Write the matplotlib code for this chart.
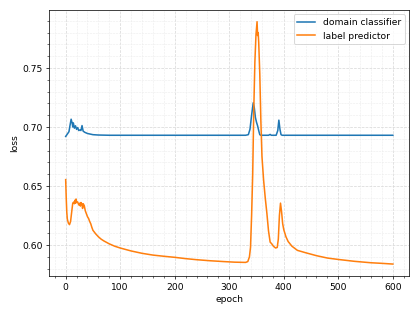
import matplotlib
matplotlib.use("Agg")
import matplotlib.pyplot as plt
from matplotlib.ticker import AutoMinorLocator

dc_epoch = [0, 3, 6, 8, 10, 12, 13, 14, 16, 18, 20, 22, 24, 26, 28, 30, 32, 35, 40, 45, 50, 60, 80,
            100, 150, 200, 250, 300, 330, 335, 338, 341, 344, 346, 348, 350, 352, 354, 356, 358,
            365, 372, 375, 377, 386, 389, 391, 393, 395, 397, 450, 500, 550, 600]
dc_loss = [0.692, 0.694, 0.696, 0.7015, 0.7066, 0.703, 0.700, 0.7035, 0.699, 0.701, 0.698, 0.6995,
           0.697, 0.6975, 0.697, 0.7012, 0.6965, 0.6955, 0.6945, 0.694, 0.6935, 0.6932, 0.693,
           0.693, 0.693, 0.693, 0.693, 0.693, 0.693, 0.6935, 0.698, 0.710, 0.7205, 0.716, 0.708,
           0.704, 0.701, 0.697, 0.6935, 0.693, 0.693, 0.693, 0.6937, 0.693, 0.693, 0.697, 0.7058,
           0.698, 0.6935, 0.693, 0.693, 0.693, 0.693, 0.693]

lp_epoch = [0, 1, 2, 3, 5, 7, 9, 11, 13, 15, 16, 17, 18, 19, 20, 22, 24, 26, 27, 28, 30, 31, 32,
            34, 36, 38, 40, 42, 44, 46, 48, 50, 55, 60, 65, 70, 80, 90, 100, 120, 140, 160, 180,
            200, 220, 240, 265, 290, 310, 330, 334, 337, 339, 341, 343, 345, 347, 349, 351, 352,
            353, 354, 356, 358, 360, 363, 366, 369, 372, 375, 378, 381, 385, 388, 390, 392, 394,
            396, 398, 400, 404, 408, 415, 425, 440, 460, 480, 500, 530, 560, 580, 600]
lp_loss = [0.6554, 0.640, 0.628, 0.622, 0.6185, 0.6173, 0.620, 0.628, 0.6355, 0.6365, 0.635, 0.638,
           0.6355, 0.639, 0.636, 0.6365, 0.634, 0.6355, 0.633, 0.636, 0.6345, 0.631, 0.635, 0.6335,
           0.629, 0.6265, 0.624, 0.6225, 0.620, 0.618, 0.615, 0.6125, 0.6095, 0.607, 0.605,
           0.6035, 0.601, 0.599, 0.5975, 0.595, 0.593, 0.5915, 0.5905, 0.5896, 0.5885, 0.5876,
           0.5867, 0.586, 0.5855, 0.5853, 0.586, 0.590, 0.598, 0.625, 0.660, 0.715, 0.755, 0.778,
           0.7892, 0.7775, 0.780, 0.772, 0.745, 0.705, 0.675, 0.655, 0.640, 0.627, 0.612, 0.6025,
           0.601, 0.599, 0.5975, 0.598, 0.605, 0.625, 0.6355, 0.628, 0.618, 0.613, 0.607, 0.603,
           0.599, 0.5955, 0.5935, 0.591, 0.589, 0.5878, 0.5862, 0.585, 0.5845, 0.5839]

fig, ax = plt.subplots(figsize=(6.4, 4.8), dpi=419 / 6.4)
ax.plot(dc_epoch, dc_loss, label="domain classifier", linewidth=1.7)
ax.plot(lp_epoch, lp_loss, label="label predictor", linewidth=1.7)
ax.set_xlabel("epoch")
ax.set_ylabel("loss")
ax.xaxis.set_minor_locator(AutoMinorLocator())
ax.yaxis.set_minor_locator(AutoMinorLocator())
ax.grid(which="major", linestyle="--", color="#d8d8d8", linewidth=0.8)
ax.grid(which="minor", linestyle="--", color="#ebebeb", linewidth=0.6)
ax.set_axisbelow(True)
ax.legend(loc="upper right")
fig.tight_layout()
fig.savefig("out.png")
